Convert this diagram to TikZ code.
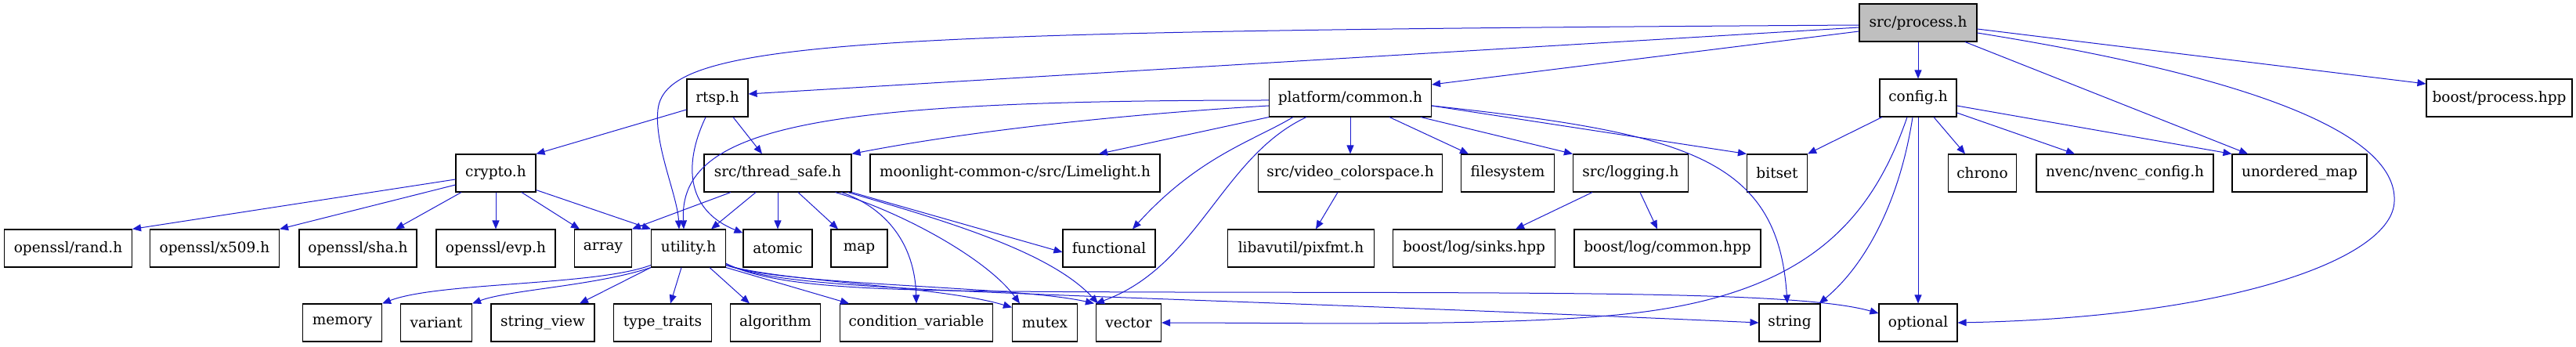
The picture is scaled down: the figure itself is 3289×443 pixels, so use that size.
\documentclass[tikz,border=0pt]{standalone}
\usepackage{fontspec}
\setmainfont{DejaVu Serif}
\usepackage{xcolor}
\usetikzlibrary{arrows.meta}
\definecolor{depblue}{HTML}{1C1CCF}
\definecolor{curfill}{HTML}{BFBFBF}
\tikzset{
  font=\fontsize{18.5}{22}\selectfont,
  >={Triangle[length=11pt,width=9pt]},
  file/.style={draw=black, fill=white, line width=1.1pt, minimum height=48pt, inner sep=0pt},
  cur/.style={file, fill=curfill},
  dep/.style={->, draw=depblue, line width=1pt}
}

\begin{document}
\begin{tikzpicture}[x=1pt,y=-1pt]
  \useasboundingbox (0,0) rectangle (3289,443);
  \fill[white] (0,0) rectangle (3289,443);

  % row 1
  \node[cur,  minimum width=150pt] (process)    at (2449,29)  {src/process.h};
  % row 2
  \node[file, minimum width=78pt]  (rtsp)       at (916,125)  {rtsp.h};
  \node[file, minimum width=207pt] (platform)   at (1724,125) {platform/common.h};
  \node[file, minimum width=98pt]  (config)     at (2449,125) {config.h};
  \node[file, minimum width=186pt] (boostproc)  at (3191,125) {boost/process.hpp};
  % row 3
  \node[file, minimum width=102pt] (crypto)     at (633,221)  {crypto.h};
  \node[file, minimum width=188pt] (tsafe)      at (993,221)  {src/thread\_safe.h};
  \node[file, minimum width=370pt] (limelight)  at (1296,221) {moonlight-common-c/src/Limelight.h};
  \node[file, minimum width=235pt] (colorspace) at (1724,221) {src/video\_colorspace.h};
  \node[file, minimum width=119pt] (filesystem) at (1925,221) {filesystem};
  \node[file, minimum width=147pt] (logging)    at (2082,221) {src/logging.h};
  \node[file, minimum width=77pt]  (bitset)     at (2269,221) {bitset};
  \node[file, minimum width=87pt]  (chrono)     at (2531,221) {chrono};
  \node[file, minimum width=226pt] (nvenc)      at (2713,221) {nvenc/nvenc\_config.h};
  \node[file, minimum width=172pt] (umap)       at (2936,221) {unordered\_map};
  % row 4
  \node[file, minimum width=163pt] (rand)       at (87,317)   {openssl/rand.h};
  \node[file, minimum width=165pt] (x509)       at (274,317)  {openssl/x509.h};
  \node[file, minimum width=150pt] (sha)        at (457,317)  {openssl/sha.h};
  \node[file, minimum width=152pt] (evp)        at (633,317)  {openssl/evp.h};
  \node[file, minimum width=73pt]  (array)      at (770,317)  {array};
  \node[file, minimum width=95pt]  (utility)    at (879,317)  {utility.h};
  \node[file, minimum width=88pt]  (atomic)     at (993,317)  {atomic};
  \node[file, minimum width=72pt]  (map)        at (1097,317) {map};
  \node[file, minimum width=118pt] (functional) at (1416,317) {functional};
  \node[file, minimum width=187pt] (pixfmt)     at (1661,317) {libavutil/pixfmt.h};
  \node[file, minimum width=207pt] (sinks)      at (1882,317) {boost/log/sinks.hpp};
  \node[file, minimum width=238pt] (logcommon)  at (2129,317) {boost/log/common.hpp};
  % row 5
  \node[file, minimum width=101pt] (memory)     at (437,412)  {memory};
  \node[file, minimum width=91pt]  (variant)    at (557,412)  {variant};
  \node[file, minimum width=132pt] (stringview) at (693,412)  {string\_view};
  \node[file, minimum width=125pt] (typetraits) at (846,412)  {type\_traits};
  \node[file, minimum width=115pt] (algorithm)  at (990,412)  {algorithm};
  \node[file, minimum width=195pt] (condvar)    at (1170,412) {condition\_variable};
  \node[file, minimum width=83pt]  (mutex)      at (1334,412) {mutex};
  \node[file, minimum width=83pt]  (vector)     at (1441,412) {vector};
  \node[file, minimum width=78pt]  (string)     at (2285,412) {string};
  \node[file, minimum width=100pt] (optional)   at (2449,412) {optional};

  % src/process.h
  \draw[dep] (process) -- (config);
  \draw[dep] ([yshift=-11pt]process.west) -- ([yshift=17pt]platform.east);
  \draw[dep] ([yshift=-6pt]process.west) -- ([yshift=5pt]rtsp.east);
  \draw[dep] ([yshift=-3pt]process.west) .. controls (1100,40) and (850,50) .. (840,140)
             .. controls (835,185) and (865,250) .. ([xshift=-12pt]utility.north);
  \draw[dep] ([xshift=60pt]process.south) -- ([xshift=-66pt]umap.north);
  \draw[dep] ([yshift=-13pt]process.east) .. controls (2950,110) and (3060,190) .. (3057,257)
             .. controls (3055,330) and (2850,405) .. (optional.east);
  \draw[dep] ([yshift=-8pt]process.east) -- ([yshift=18pt]boostproc.west);

  % rtsp.h
  \draw[dep] ([yshift=-15pt]rtsp.west) -- (crypto.north east);
  \draw[dep] ([xshift=20pt]rtsp.south) -- ([xshift=-20pt]tsafe.north);
  \draw[dep] ([xshift=-15pt]rtsp.south) .. controls (870,215) and (880,270) .. ([yshift=-5pt]atomic.north west);

  % crypto.h
  \draw[dep] ([yshift=-8pt]crypto.west) -- (rand.north east);
  \draw[dep] ([yshift=-15pt]crypto.west) -- (x509.north east);
  \draw[dep] ([xshift=-44pt]crypto.south) -- ([xshift=48pt]sha.north);
  \draw[dep] (crypto) -- (evp);
  \draw[dep] ([xshift=33pt]crypto.south) -- ([xshift=-30pt]array.north);
  \draw[dep] ([yshift=3pt]crypto.south east) -- (utility.north west);

  % src/thread_safe.h
  \draw[dep] ([xshift=-60pt]tsafe.south) -- (array.north east);
  \draw[dep] ([xshift=-28pt]tsafe.south) -- ([xshift=29pt]utility.north);
  \draw[dep] (tsafe) -- (atomic);
  \draw[dep] ([xshift=26pt]tsafe.south) -- ([xshift=-27pt]map.north);
  \draw[dep] ([xshift=-13pt]tsafe.south east) .. controls (1130,265) and (1168,310) .. (condvar.north);
  \draw[dep] ([xshift=-21pt]tsafe.south east) .. controls (1150,270) and (1260,330) .. ([xshift=-32pt]mutex.north);
  \draw[dep] ([xshift=-5pt]tsafe.south east) .. controls (1200,280) and (1340,320) .. ([xshift=3pt]vector.north west);
  \draw[dep] (tsafe.south east) -- ([yshift=-5pt]functional.west);

  % platform/common.h
  \draw[dep] ([yshift=-3pt]platform.west) .. controls (1050,128) and (866,160) .. ([xshift=-6pt]utility.north);
  \draw[dep] ([yshift=-10pt]platform.west) .. controls (1450,145) and (1250,165) .. (tsafe.north east);
  \draw[dep] (platform.south west) -- ([xshift=107pt]limelight.north);
  \draw[dep] ([xshift=-73pt]platform.south) .. controls (1600,180) and (1530,200) .. ([xshift=30pt]functional.north);
  \draw[dep] ([xshift=-56pt]platform.south) .. controls (1560,200) and (1530,340) .. (vector.north west);
  \draw[dep] (platform) -- (colorspace);
  \draw[dep] ([xshift=50pt]platform.south) -- ([xshift=-50pt]filesystem.north);
  \draw[dep] ([xshift=90pt]platform.south) -- (logging.north west);
  \draw[dep] ([yshift=-10pt]platform.east) -- (bitset.north west);
  \draw[dep] ([yshift=-10pt]platform.east) .. controls (2150,170) and (2270,200) .. ([xshift=-3pt]string.north);

  % src/video_colorspace.h, src/logging.h
  \draw[dep] ([xshift=-16pt]colorspace.south) -- ([xshift=19pt]pixfmt.north);
  \draw[dep] ([xshift=-49pt]logging.south) -- ([xshift=53pt]sinks.north);
  \draw[dep] ([xshift=12pt]logging.south) -- ([xshift=-13pt]logcommon.north);

  % config.h
  \draw[dep] ([xshift=-46pt]config.south) -- (bitset.north east);
  \draw[dep] ([xshift=-14pt]config.south) .. controls (2390,280) and (2310,370) .. (2100,398)
             .. controls (1950,418) and (1650,412) .. (vector.east);
  \draw[dep] ([xshift=-7pt]config.south) .. controls (2425,260) and (2380,340) .. ([xshift=-2pt]string.north east);
  \draw[dep] (config) -- (optional);
  \draw[dep] ([xshift=20pt]config.south) -- ([xshift=-22pt]chrono.north);
  \draw[dep] ([yshift=-19pt]config.east) -- ([xshift=-64pt]nvenc.north);
  \draw[dep] ([yshift=-10pt]config.east) -- (umap.north west);

  % utility.h
  \draw[dep] ([yshift=3pt]utility.south west) .. controls (760,365) and (560,360) .. (memory.north east);
  \draw[dep] (utility.south west) .. controls (760,365) and (650,370) .. (variant.north east);
  \draw[dep] (utility.south west) -- ([xshift=47pt]stringview.north);
  \draw[dep] ([xshift=-9pt]utility.south) -- ([xshift=10pt]typetraits.north);
  \draw[dep] ([xshift=27pt]utility.south) -- ([xshift=-33pt]algorithm.north);
  \draw[dep] (utility.south east) -- ([xshift=-86pt]condvar.north);
  \draw[dep] ([yshift=3pt]utility.south east) .. controls (1000,360) and (1200,365) .. ([yshift=-5pt]mutex.north west);
  \draw[dep] ([yshift=3pt]utility.south east) .. controls (1000,365) and (1300,365) .. ([xshift=-2pt]vector.north west);
  \draw[dep] ([yshift=5pt]utility.south east) .. controls (1000,375) and (1300,370) .. (string.west);
  \draw[dep] ([yshift=5pt]utility.south east) .. controls (1000,372) and (1150,372) .. (1500,373)
             .. controls (2000,374) and (2300,372) .. ([yshift=12pt]optional.west);
\end{tikzpicture}
\end{document}
